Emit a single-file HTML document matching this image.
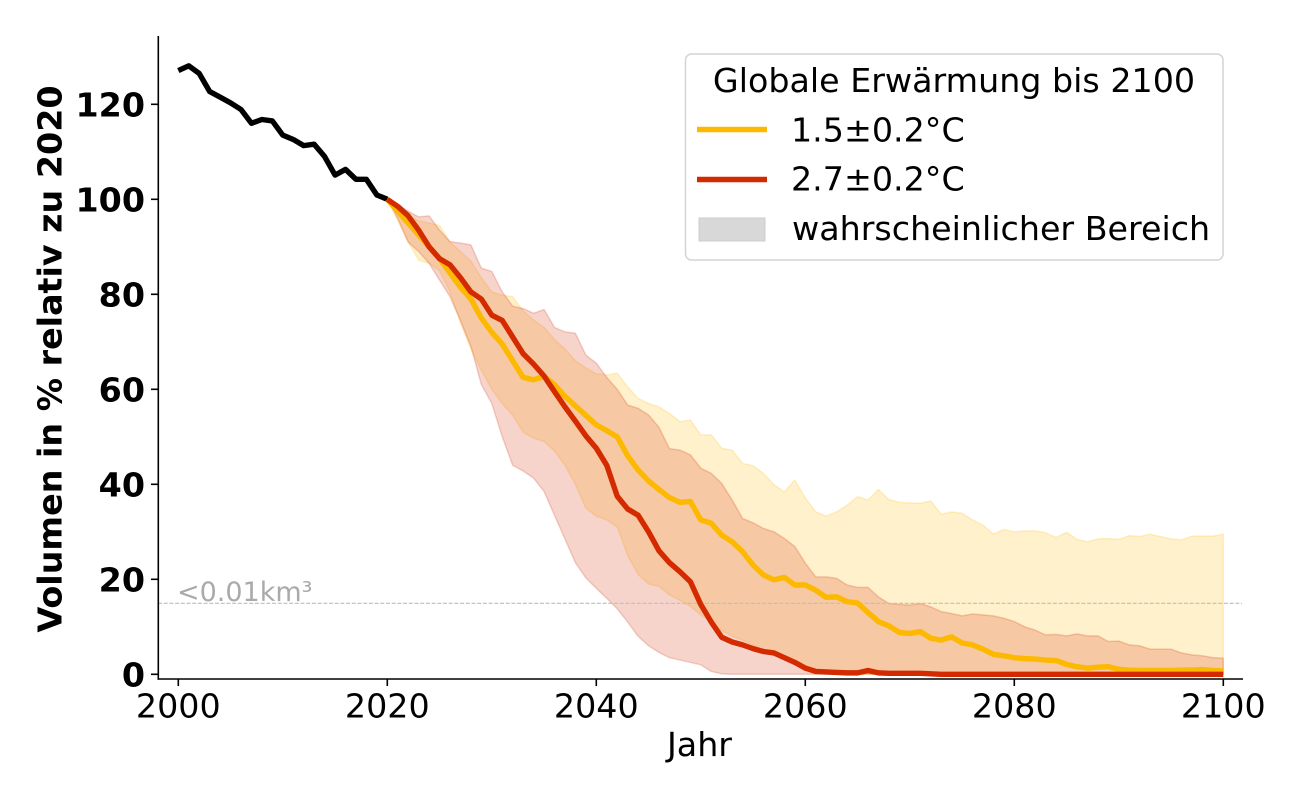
<!DOCTYPE html>
<html>
<head>
<meta charset="utf-8">
<style>
html,body{margin:0;padding:0;background:#fff;}
svg{display:block;}
text{font-family:"DejaVu Sans","Liberation Sans",sans-serif;}
</style>
</head>
<body>
<svg width="1300" height="800" viewBox="0 0 1300 800" xmlns="http://www.w3.org/2000/svg">
<rect x="0" y="0" width="1300" height="800" fill="#ffffff"/>

<g transform="matrix(10.45 0 0 -4.75 178.3 674.3)">
  <!-- yellow band -->
  <polygon fill="#FFBB00" fill-opacity="0.2" stroke="#FFBB00" stroke-opacity="0.2" stroke-width="1.5" vector-effect="non-scaling-stroke" stroke-linejoin="round"
    points="20,100 21,98 22,96.5 23,95.5 24,95 25,94.5 26,91 27,89 28,87 29,83.5 30,80.5 31,79.8 32,79.5 33,76.5 34,74.6 35,73 36,70.5 37,68.5 38,66 39,64.5 40,63.3 41,63 42,63.4 43,60.5 44,58.1 45,57 46,56.3 47,54.9 48,53.2 49,53.5 50,50.4 51,50.4 52,47.6 53,47.2 54,44.4 55,43.9 56,42.3 57,39.9 58,38.4 59,40.9 60,37.1 61,34.2 62,33.3 63,34.2 64,35.6 65,37.4 66,36.7 67,38.9 68,36.8 69,36.2 70,36.1 71,36 72,36.5 73,33.7 74,34.2 75,33.9 76,32.5 77,31.4 78,29.5 79,30.5 80,30 81,30.2 82,30.2 83,29.8 84,28.8 85,29.9 86,28.4 87,27.9 88,28.5 89,28.6 90,28.4 91,29.2 92,29 93,29.5 94,29 95,28.5 96,28.3 97,29.1 98,29.1 99,29.1 100,29.5 100,0 64,0 63,0.2 62,0.5 61,1 60,1.6 59,2.6 58,3.4 57,4 56,5 55,6.2 54,7.2 53,8 52,9.2 51,11 50,12.5 49,14.3 48,15.6 47,16.7 46,18.5 45,19 44,21 43,25 42,31 41,32.5 40,33.3 39,35 38,40 37,44 36,47 35,49 34,49.7 33,51 32,54.5 31,57 30,60 29,64 28,68.5 27,74 26,80.5 25,85 24,86.5 23,87.2 22,91 21,95.5"/>
  <!-- red band -->
  <polygon fill="#D42A00" fill-opacity="0.2" stroke="#D42A00" stroke-opacity="0.2" stroke-width="1.5" vector-effect="non-scaling-stroke" stroke-linejoin="round"
    points="20,100 21,98.8 22,97.5 23,96.3 24,96.5 25,93.5 26,91.1 27,90.8 28,90.4 29,85.5 30,84.8 31,80.5 32,77.5 33,77 34,76 35,76.8 36,73 37,72.1 38,71.8 39,67.2 40,65.5 41,62.5 42,60 43,56.7 44,56 45,54.6 46,52 47,47.5 48,47.2 49,46.2 50,43.4 51,42.3 52,40.2 53,36.7 54,32.8 55,31.9 56,30.7 57,30 58,28.6 59,26.9 60,23.4 61,20.5 62,20.5 63,20.2 64,18.8 65,18.3 66,18.3 67,16.3 68,14.9 69,14.7 70,14.6 71,14.9 72,14.2 73,13.2 74,12.8 75,12.3 76,12.7 77,12.5 78,12.3 79,11.8 80,11.1 81,10 82,9.3 83,8.3 84,8.4 85,8.1 86,8.5 87,8.1 88,8.1 89,6.9 90,7 91,6.2 92,6 93,5.3 94,5.3 95,5.3 96,4.5 97,4.1 98,3.9 99,3.5 100,3.4 100,0 53,0 52,0.1 51,0.6 50,2 49,2.5 48,3 47,3.5 46,4.6 45,6 44,8 43,11 42,13.8 41,16 40,18.1 39,20.3 38,23.5 37,28.5 36,33.5 35,38.5 34,41.3 33,42.8 32,44 31,50 30,57 29,61 28,69 27,74.5 26,79.5 25,83 24,86.5 23,89 22,91 21,96"/>
</g>

<!-- dashed reference line -->
<line x1="158" y1="603.3" x2="1242" y2="603.3" stroke="#bdbdbd" stroke-width="1.1" stroke-dasharray="4,1.7"/>
<text x="177" y="601" font-size="27" fill="#aaaaaa">&lt;0.01km³</text>

<g transform="matrix(10.45 0 0 -4.75 178.3 674.3)" fill="none" stroke-linejoin="round">
  <!-- black historical line -->
  <polyline stroke="#000000" stroke-width="5.4" vector-effect="non-scaling-stroke" stroke-linecap="butt"
    points="0,127.1 1,128.1 2,126.5 3,122.7 4,121.5 5,120.3 6,118.9 7,116 8,116.8 9,116.5 10,113.5 11,112.6 12,111.3 13,111.6 14,109 15,105.1 16,106.3 17,104.2 18,104.2 19,100.9 20,100"/>
  <!-- yellow median -->
  <polyline stroke="#FCB900" stroke-width="5.4" vector-effect="non-scaling-stroke" stroke-linecap="butt"
    points="20,100 21,97.5 22,95 23,92.5 24,90 25,87.5 26,84.5 27,81.5 28,79 29,75 30,72 31,69.5 32,66 33,62.5 34,62 35,62.7 36,61 37,58.5 38,56.5 39,54.5 40,52.5 41,51.3 42,50 43,46 44,43 45,40.7 46,38.9 47,37.2 48,36.2 49,36.4 50,32.5 51,31.8 52,29.3 53,27.9 54,25.8 55,23 56,20.9 57,19.9 58,20.4 59,18.8 60,18.8 61,17.7 62,16.2 63,16.3 64,15.3 65,15 66,13 67,11.1 68,10.2 69,8.8 70,8.6 71,9 72,7.6 73,7.2 74,7.9 75,6.6 76,6.2 77,5.3 78,4.2 79,3.9 80,3.5 81,3.3 82,3.2 83,3 84,2.9 85,2.1 86,1.6 87,1.3 88,1.5 89,1.6 90,1.05 91,0.9 92,0.8 93,0.8 94,0.8 95,0.8 96,0.9 97,0.9 98,1 99,0.8 100,0.7"/>
  <!-- red median -->
  <polyline stroke="#D42A00" stroke-width="5.4" vector-effect="non-scaling-stroke" stroke-linecap="butt"
    points="20,100 21,98.5 22,96.5 23,93.5 24,90 25,87.5 26,86.2 27,83.5 28,80.5 29,79 30,75.6 31,74.5 32,71 33,67.5 34,65.3 35,62.8 36,59.5 37,56.3 38,53.3 39,50.2 40,47.6 41,44 42,37.5 43,34.8 44,33.5 45,30 46,26 47,23.5 48,21.6 49,19.5 50,14.7 51,11 52,7.8 53,6.8 54,6.2 55,5.4 56,4.8 57,4.5 58,3.5 59,2.5 60,1.3 61,0.6 62,0.5 63,0.4 64,0.3 65,0.3 66,0.8 67,0.3 68,0.2 69,0.2 70,0.2 71,0.2 72,0.1 73,0 100,0"/>
</g>

<!-- axes spines -->
<line x1="158.3" y1="36" x2="158.3" y2="679.8" stroke="#000" stroke-width="1.6"/>
<line x1="157.5" y1="679" x2="1243" y2="679" stroke="#000" stroke-width="1.6"/>

<!-- y ticks -->
<g stroke="#000" stroke-width="1.6">
  <line x1="151" y1="674.3" x2="158" y2="674.3"/>
  <line x1="151" y1="579.3" x2="158" y2="579.3"/>
  <line x1="151" y1="484.3" x2="158" y2="484.3"/>
  <line x1="151" y1="389.3" x2="158" y2="389.3"/>
  <line x1="151" y1="294.3" x2="158" y2="294.3"/>
  <line x1="151" y1="199.3" x2="158" y2="199.3"/>
  <line x1="151" y1="104.3" x2="158" y2="104.3"/>
</g>
<g font-size="33.3" font-weight="bold" text-anchor="end" fill="#000">
  <text x="145" y="686.4">0</text>
  <text x="145" y="591.4">20</text>
  <text x="145" y="496.4">40</text>
  <text x="145" y="401.4">60</text>
  <text x="145" y="306.4">80</text>
  <text x="145" y="211.4">100</text>
  <text x="145" y="116.4">120</text>
</g>

<!-- x ticks -->
<g stroke="#000" stroke-width="1.6">
  <line x1="178.3" y1="679" x2="178.3" y2="686"/>
  <line x1="387.3" y1="679" x2="387.3" y2="686"/>
  <line x1="596.3" y1="679" x2="596.3" y2="686"/>
  <line x1="805.3" y1="679" x2="805.3" y2="686"/>
  <line x1="1014.3" y1="679" x2="1014.3" y2="686"/>
  <line x1="1223.3" y1="679" x2="1223.3" y2="686"/>
</g>
<g font-size="33.3" text-anchor="middle" fill="#000">
  <text x="178.3" y="717.5">2000</text>
  <text x="387.3" y="717.5">2020</text>
  <text x="596.3" y="717.5">2040</text>
  <text x="805.3" y="717.5">2060</text>
  <text x="1014.3" y="717.5">2080</text>
  <text x="1223.3" y="717.5">2100</text>
</g>

<!-- axis labels -->
<text x="699.5" y="756" font-size="33.3" text-anchor="middle" fill="#000">Jahr</text>
<text transform="translate(61.5,359) rotate(-90)" font-size="33.3" font-weight="bold" text-anchor="middle" fill="#000">Volumen in % relativ zu 2020</text>

<!-- legend -->
<rect x="685.5" y="54" width="537.5" height="206" rx="6" ry="6" fill="#ffffff" fill-opacity="0.8" stroke="#d4d4d4" stroke-width="1.5"/>
<text x="954" y="92" font-size="33.3" text-anchor="middle" fill="#000">Globale Erwärmung bis 2100</text>
<line x1="697" y1="129.5" x2="767" y2="129.5" stroke="#FCB900" stroke-width="5.4"/>
<text x="791" y="141.5" font-size="33.3" fill="#000">1.5±0.2°C</text>
<line x1="697" y1="179.5" x2="767" y2="179.5" stroke="#D42A00" stroke-width="5.4"/>
<text x="791" y="190.5" font-size="33.3" fill="#000">2.7±0.2°C</text>
<rect x="699" y="218" width="66" height="23" fill="#d8d8d8" stroke="#cccccc" stroke-width="1"/>
<text x="792" y="240" font-size="33.3" fill="#000">wahrscheinlicher Bereich</text>
</svg>
</body>
</html>
